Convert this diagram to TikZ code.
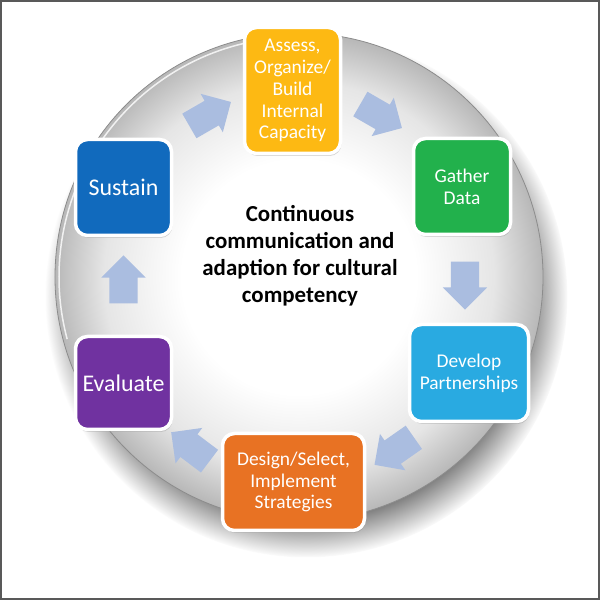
\documentclass[tikz,border=0pt]{standalone}
\usepackage{fontspec}
\setmainfont{Carlito}
\usetikzlibrary{shapes.arrows,shadows}
\definecolor{assesscol}{RGB}{253,185,19}
\definecolor{gathercol}{RGB}{34,177,76}
\definecolor{developcol}{RGB}{41,170,225}
\definecolor{designcol}{RGB}{232,114,35}
\definecolor{evaluatecol}{RGB}{112,50,160}
\definecolor{sustaincol}{RGB}{17,106,189}
\definecolor{flowcol}{RGB}{170,189,224}
\pgfdeclareradialshading{discshade}{\pgfpoint{0bp}{0bp}}{color(0bp)=(white); color(12bp)=(white); color(20bp)=(black!10); color(25bp)=(black!28); color(50bp)=(black!28)}
\tikzset{
  stage/.style={draw=white, line width=3.5bp, rounded corners=12bp, text=white,
    align=center, inner sep=0pt, font=\fontsize{19.5}{22}\selectfont,
    drop shadow={shadow xshift=1bp, shadow yshift=-2.5bp, opacity=0.3}},
  bigstage/.style={stage, font=\fontsize{24}{27}\selectfont},
  flow/.style={single arrow, fill=flowcol, draw=none, inner xsep=0pt, inner ysep=14bp,
    minimum height=48bp, single arrow head extend=8bp}
}
\begin{document}
\begin{tikzpicture}[x=1bp,y=1bp]
\useasboundingbox (0,0) rectangle (600,600);
\draw[line width=2bp, black!65] (1,1) rectangle (599,599);
% the disc and its shadow
\coordinate (disc) at (299,323);
\shade[shading=discshade, draw=black!45, line width=0.8bp,
  circular drop shadow={shadow xshift=7bp, shadow yshift=-18bp, shadow scale=1.07, opacity=1}]
  (disc) circle (244bp);
\draw[white, line width=1.5bp, opacity=0.8] (disc) ++(95:240bp) arc (95:195:240bp);
% stages
\node[stage, fill=assesscol, minimum width=96bp, minimum height=126bp] (assess) at (292.5,509.5) {Assess,\\Organize/\\Build\\Internal\\Capacity};
\node[stage, fill=gathercol, minimum width=97bp, minimum height=96bp] (gather) at (462,413.5) {Gather\\Data};
\node[stage, fill=developcol, minimum width=119bp, minimum height=97bp] (develop) at (469,227) {Develop\\Partnerships};
\node[stage, fill=designcol, minimum width=142bp, minimum height=97bp] (design) at (293.5,118) {Design/Select,\\Implement\\Strategies};
\node[bigstage, fill=evaluatecol, minimum width=96bp, minimum height=93bp] (evaluate) at (123.5,217) {Evaluate};
\node[bigstage, fill=sustaincol, minimum width=96bp, minimum height=96bp] (sustain) at (123.5,412.5) {Sustain};
% arrows between the stages
\node[flow, rotate=30] (sustaintoassess) at (204,482.5) {};
\node[flow, rotate=-30] (assesstogather) at (375,487.5) {};
\node[flow, rotate=-90] (gathertodevelop) at (465,321.5) {};
\node[flow, rotate=215] (developtodesign) at (400,153) {};
\node[flow, rotate=143] (designtoevaluate) at (196,149) {};
\node[flow, rotate=90] (evaluatetosustain) at (123.5,313.5) {};
% middle
\node[font=\bfseries\fontsize{23}{27}\selectfont, align=center] (theme) at (300,344) {Continuous\\communication and\\adaption for cultural\\competency};
\end{tikzpicture}
\end{document}
